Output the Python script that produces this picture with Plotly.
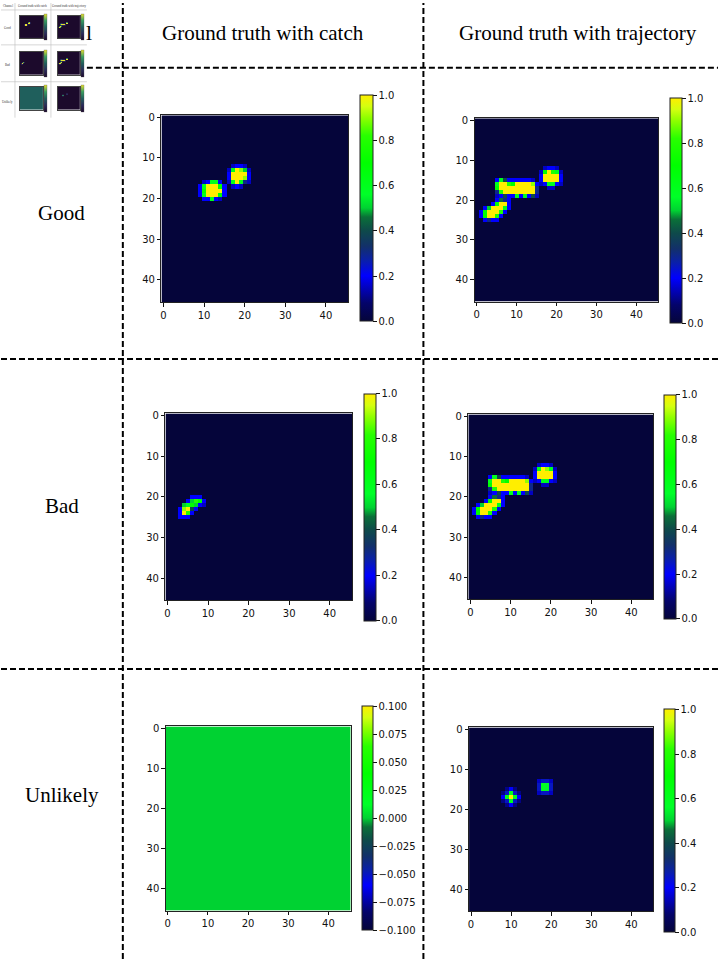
import numpy as np
import plotly.graph_objects as go

W, H = 718, 959
N = 46

COL_HEADERS = ["Ground truth with catch", "Ground truth with trajectory"]
ROW_LABELS = ["Good", "Bad", "Unlikely"]
THUMB_HEADERS = ["Channel", "Ground truth with catch", "Ground truth with trajectory"]
AXIS_TICKS = [0, 10, 20, 30, 40]
CB_TICKS_UNIT = [0.0, 0.2, 0.4, 0.6, 0.8, 1.0]
CB_TICKS_SMALL = [-0.100, -0.075, -0.050, -0.025, 0.000, 0.025, 0.050, 0.075, 0.100]

# patches: (top_row, left_col, values)
GOOD_CATCH = [
    (16, 9, [[0, 0.15, 0.2, 0.6, 0.6, 0.2, 0],
             [0.2, 0.6, 1, 1, 1, 0.7, 0.2],
             [0.2, 0.7, 1, 1, 1, 1, 0.2],
             [0.2, 0.6, 1, 1, 1, 0.7, 0.2],
             [0, 0.2, 0.2, 0.6, 0.2, 0.15, 0]]),
    (12, 16, [[0, 0.15, 0.2, 0.2, 0.15, 0],
              [0.15, 0.6, 1, 0.9, 0.5, 0.15],
              [0.2, 1, 1, 1, 1, 0.2],
              [0.2, 1, 1, 1, 0.9, 0.2],
              [0.15, 0.6, 1, 0.6, 0.3, 0.15],
              [0, 0.15, 0.2, 0.15, 0, 0]]),
]

GOOD_TRAJ = [
    (12, 16, [[0, 0.15, 0.2, 0.2, 0.15, 0],
              [0.15, 0.7, 1, 0.8, 0.6, 0.15],
              [0.2, 1, 1, 1, 1, 0.2],
              [0.2, 1, 1, 1, 1, 0.2],
              [0.15, 0.2, 0.6, 0.6, 0.2, 0.15],
              [0, 0, 0.15, 0.15, 0, 0]]),
    (15, 5, [[0.2, 0.6, 0.4, 0.2, 0.2, 0.2, 0.2, 0.2, 0.2, 0.15, 0],
             [0.6, 1, 1, 0.8, 0.7, 1, 1, 1, 1, 0.9, 0.2],
             [0.7, 1, 1, 1, 1, 1, 1, 1, 1, 1, 0.3],
             [0.3, 0.8, 1, 1, 1, 1, 1, 1, 1, 1, 0.3],
             [0.15, 0.2, 0.4, 0.2, 0.2, 0.6, 0.2, 0.6, 0.2, 0.4, 0.15]]),
    (20, 1, [[0, 0, 0, 0, 0.2, 0.45, 0.3, 0.2],
             [0, 0, 0, 0.2, 0.7, 1, 1, 0.2],
             [0, 0.2, 0.5, 1, 1, 1, 0.6, 0.2],
             [0.2, 0.7, 1, 1, 1, 0.8, 0.2, 0],
             [0.2, 0.7, 1, 1, 0.8, 0.2, 0, 0],
             [0, 0.2, 0.3, 0.2, 0.2, 0, 0, 0]]),
]

BAD_CATCH = [
    (20, 3, [[0, 0, 0, 0.2, 0.2, 0.2, 0],
             [0, 0, 0.2, 0.5, 0.8, 0.7, 0.2],
             [0, 0.5, 0.6, 0.7, 0.5, 0.2, 0.15],
             [0.2, 0.9, 1, 0.4, 0.2, 0, 0],
             [0.2, 1, 0.8, 0.2, 0, 0, 0],
             [0.2, 0.2, 0.2, 0, 0, 0, 0]]),
]

BAD_TRAJ = [
    (12, 16, [[0, 0.15, 0.2, 0.2, 0.15, 0],
              [0.15, 0.6, 1, 0.9, 0.6, 0.15],
              [0.2, 1, 1, 1, 1, 0.2],
              [0.2, 1, 1, 1, 1, 0.2],
              [0.15, 0.2, 0.6, 0.6, 0.2, 0.15],
              [0, 0, 0.15, 0.15, 0, 0]]),
    (15, 5, [[0.2, 0.6, 0.4, 0.2, 0.2, 0.2, 0.2, 0.2, 0.2, 0.15, 0],
             [0.6, 1, 1, 0.8, 0.7, 1, 1, 1, 1, 0.9, 0.2],
             [0.7, 1, 1, 1, 1, 1, 1, 1, 1, 1, 0.3],
             [0.3, 0.8, 1, 1, 1, 1, 1, 1, 1, 1, 0.3],
             [0.15, 0.2, 0.4, 0.2, 0.2, 0.6, 0.2, 0.6, 0.2, 0.4, 0.15]]),
    (20, 1, [[0, 0, 0, 0, 0.2, 0.45, 0.3, 0.2],
             [0, 0, 0, 0.2, 0.7, 1, 1, 0.2],
             [0, 0.2, 0.5, 1, 1, 1, 0.6, 0.2],
             [0.2, 0.7, 1, 1, 1, 0.8, 0.2, 0],
             [0.2, 0.7, 1, 1, 0.8, 0.2, 0, 0],
             [0, 0.2, 0.3, 0.2, 0.2, 0, 0, 0]]),
]

UNLIKELY_CATCH = []  # all zeros

UNLIKELY_TRAJ = [
    (15, 8, [[0, 0.1, 0.2, 0.1, 0],
             [0.1, 0.25, 0.6, 0.25, 0.1],
             [0.2, 0.6, 1, 0.6, 0.2],
             [0.1, 0.25, 0.6, 0.25, 0.1],
             [0, 0.1, 0.2, 0.1, 0]]),
    (13, 17, [[0.15, 0.25, 0.25, 0.15],
              [0.25, 0.6, 0.55, 0.25],
              [0.25, 0.6, 0.55, 0.25],
              [0.15, 0.25, 0.25, 0.15]]),
]

CS = [[0.0, '#05053a'], [0.08, '#04046a'], [0.2, '#0000ff'], [0.27, '#0a20a8'],
      [0.33, '#12306a'], [0.4, '#0e4a4a'], [0.46, '#0a7038'], [0.5, '#00d232'],
      [0.56, '#00ff28'], [0.7, '#00ff00'], [0.82, '#28ff00'], [0.9, '#90ff00'],
      [0.95, '#d4ff10'], [1.0, '#ffee00']]
THUMB_CS = [[0.0, '#1c0a2c'], [0.25, '#2a2a5a'], [0.5, '#1f5f5c'], [0.75, '#3aa060'], [1.0, '#e8e030']]


def build(patches):
    g = np.zeros((N, N))
    for r0, c0, vals in patches:
        a = np.array(vals, dtype=float)
        sub = g[r0:r0 + a.shape[0], c0:c0 + a.shape[1]]
        g[r0:r0 + a.shape[0], c0:c0 + a.shape[1]] = np.maximum(sub, a)
    return g


def fx(p):
    return p / W


def fy(p):
    return 1 - p / H


PANELS = [
    # data, zrange, img box (x0,x1,y0,y1), cbar box (x0,x1,y0,y1)
    (GOOD_CATCH, (0, 1), (160.7, 347.7, 112.7, 300.0), (359, 372, 93, 319)),
    (GOOD_TRAJ, (0, 1), (474.3, 658.3, 115.7, 299.7), (670, 682, 96, 321)),
    (BAD_CATCH, (0, 1), (164.7, 351.5, 411.7, 599.3), (363.3, 375, 392.3, 619)),
    (BAD_TRAJ, (0, 1), (468.0, 653.3, 412.7, 598.3), (664.3, 676, 393.3, 617.7)),
    (UNLIKELY_CATCH, (-0.1, 0.1), (165.0, 350.0, 725.7, 910.7), (361.7, 372.7, 705.7, 930)),
    (UNLIKELY_TRAJ, (0, 1), (468.7, 653.3, 726.7, 911.3), (664.3, 675.5, 709, 932)),
]

THUMBS = [
    (GOOD_CATCH, (0, 1), (19, 42, 13, 35)),
    (GOOD_TRAJ, (0, 1), (57, 79, 13, 35)),
    (BAD_CATCH, (0, 1), (19, 42, 49, 72)),
    (BAD_TRAJ, (0, 1), (57, 79, 49, 72)),
    (UNLIKELY_CATCH, (-0.1, 0.1), (19, 42, 84, 107)),
    (UNLIKELY_TRAJ, (0, 1), (57, 79, 84, 107)),
]

fig = go.Figure()
layout = {}
tickfont = dict(family="DejaVu Sans", size=10, color="#111111")
idx = 0
for data, (zmin, zmax), (x0, x1, y0, y1), (cx0, cx1, cy0, cy1) in PANELS:
    idx += 1
    sfx = "" if idx == 1 else str(idx)
    g = build(data)
    small = zmax < 1
    cb = dict(x=fx(cx0), xanchor="left", y=fy((cy0 + cy1) / 2), yanchor="middle",
              len=cy1 - cy0, lenmode="pixels", thickness=cx1 - cx0, thicknessmode="pixels",
              xpad=0, ypad=0, outlinewidth=1, outlinecolor="#222222",
              ticks="outside", ticklen=3.5, tickwidth=0.8, tickcolor="#111111",
              tickvals=CB_TICKS_SMALL if small else CB_TICKS_UNIT,
              tickformat=".3f" if small else ".1f", tickfont=tickfont)
    fig.add_trace(go.Heatmap(z=g, x=list(range(N)), y=list(range(N)), colorscale=CS,
                             zmin=zmin, zmax=zmax, xaxis="x" + sfx, yaxis="y" + sfx,
                             colorbar=cb, hoverinfo="skip"))
    common = dict(tickvals=AXIS_TICKS, ticks="outside", ticklen=3.5, tickwidth=0.8,
                  tickcolor="#111111", tickfont=tickfont, showgrid=False,
                  zeroline=False, showline=True, mirror=True, linecolor="#222222",
                  linewidth=1)
    layout["xaxis" + sfx] = dict(domain=[fx(x0), fx(x1)], range=[-0.5, N - 0.5],
                                 anchor="y" + sfx, **common)
    layout["yaxis" + sfx] = dict(domain=[fy(y1), fy(y0)], range=[N - 0.5, -0.5],
                                 anchor="x" + sfx, **common)

for data, (zmin, zmax), (x0, x1, y0, y1) in THUMBS:
    idx += 1
    sfx = str(idx)
    g = build(data)
    cb = dict(x=fx(x1 + 1), xanchor="left", y=fy((y0 + y1) / 2), yanchor="middle",
              len=(y1 - y0) + 4, lenmode="pixels", thickness=2.5, thicknessmode="pixels",
              xpad=0, ypad=0, outlinewidth=0.3, outlinecolor="#555555",
              ticks="", showticklabels=False)
    fig.add_trace(go.Heatmap(z=g, x=list(range(N)), y=list(range(N)), colorscale=THUMB_CS,
                             zmin=zmin, zmax=zmax, xaxis="x" + sfx, yaxis="y" + sfx,
                             colorbar=cb, hoverinfo="skip"))
    ax = dict(showticklabels=False, ticks="", showgrid=False, zeroline=False,
              showline=True, mirror=True, linecolor="#444444", linewidth=0.4)
    layout["xaxis" + sfx] = dict(domain=[fx(x0), fx(x1)], range=[-0.5, N - 0.5], anchor="y" + sfx, **ax)
    layout["yaxis" + sfx] = dict(domain=[fy(y1), fy(y0)], range=[N - 0.5, -0.5], anchor="x" + sfx, **ax)

shapes = []
dash = dict(color="black", width=2, dash="6px,3px")
for xx in [122, 423]:
    shapes.append(dict(type="line", xref="paper", yref="paper", x0=fx(xx), x1=fx(xx),
                       y0=0, y1=1, line=dash))
shapes.append(dict(type="line", xref="paper", yref="paper", x0=fx(86), x1=1,
                   y0=fy(65), y1=fy(65), line=dash))
for yy in [357, 668]:
    shapes.append(dict(type="line", xref="paper", yref="paper", x0=0, x1=1,
                       y0=fy(yy), y1=fy(yy), line=dash))
# thumbnail grid lines
thin = dict(color="#bbbbbb", width=0.6)
for yy in [7, 42, 79]:
    shapes.append(dict(type="line", xref="paper", yref="paper", x0=0, x1=fx(86),
                       y0=fy(yy), y1=fy(yy), line=thin))
for xx in [14, 50]:
    shapes.append(dict(type="line", xref="paper", yref="paper", x0=fx(xx), x1=fx(xx),
                       y0=fy(0), y1=fy(115), line=thin))

annotations = []
serif = "Liberation Serif, Times New Roman, serif"
for txt, cx in zip(COL_HEADERS, [262, 578]):
    annotations.append(dict(text=txt, x=fx(cx), y=fy(30), xref="paper", yref="paper",
                            showarrow=False, xanchor="center", yanchor="middle",
                            font=dict(family=serif, size=21, color="black")))
for txt, cy in zip(ROW_LABELS, [211, 505, 794]):
    annotations.append(dict(text=txt, x=fx(61), y=fy(cy), xref="paper", yref="paper",
                            showarrow=False, xanchor="center", yanchor="middle",
                            font=dict(family=serif, size=21, color="black")))
annotations.append(dict(text="l", x=fx(88), y=fy(30), xref="paper", yref="paper",
                        showarrow=False, xanchor="center", yanchor="middle",
                        font=dict(family=serif, size=22, color="black")))
for txt, cx in zip(THUMB_HEADERS, [7, 32, 68]):
    annotations.append(dict(text=txt, x=fx(cx), y=fy(3.5), xref="paper", yref="paper",
                            showarrow=False, xanchor="center", yanchor="middle",
                            font=dict(family=serif, size=3, color="#333333")))
for txt, cy in zip(ROW_LABELS, [25, 62, 99]):
    annotations.append(dict(text=txt, x=fx(7), y=fy(cy), xref="paper", yref="paper",
                            showarrow=False, xanchor="center", yanchor="middle",
                            font=dict(family=serif, size=3, color="#333333")))

fig.update_layout(width=W, height=H, margin=dict(l=0, r=0, t=0, b=0),
                  paper_bgcolor="white", plot_bgcolor="white", showlegend=False,
                  shapes=shapes, annotations=annotations, **layout)

fig.write_html("out.html")
